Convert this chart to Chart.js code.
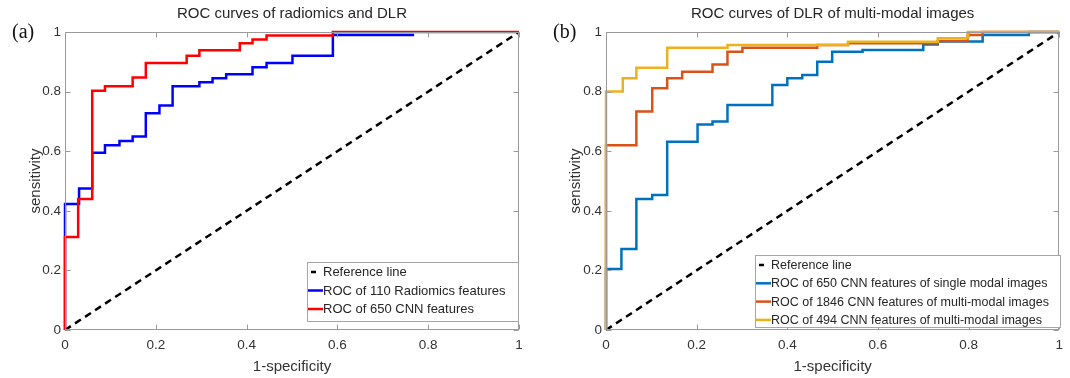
<!DOCTYPE html>
<html>
<head>
<meta charset="utf-8">
<script src="https://cdn.jsdelivr.net/npm/chart.js@4.4.1/dist/chart.umd.min.js"></script>
<style>
  body { margin: 0; background: #fff; }
  canvas { position: absolute; top: 0; }
  #rocRadiomics { left: 0; }
  #rocMultiModal { left: 540px; }
</style>
</head>
<body>
<canvas id="rocRadiomics" width="540" height="378"></canvas>
<canvas id="rocMultiModal" width="530" height="378"></canvas>
<script>
// tick labels (shared by both panels)
const xTickLabels = ["0", "0.2", "0.4", "0.6", "0.8", "1"];
const yTickLabels = ["0", "0.2", "0.4", "0.6", "0.8", "1"];

// chance diagonal
const referenceFpr = [0, 1];
const referenceTpr = [0, 1];

// (a) radiomics vs DLR -- step corners
const radiomicsFpr = [0, 0, 0.031, 0.06, 0.088, 0.12, 0.149, 0.178, 0.208, 0.237, 0.296, 0.325, 0.355, 0.413, 0.444, 0.501, 0.59, 0.769];
const radiomicsTpr = [0, 0.423, 0.475, 0.595, 0.62, 0.634, 0.649, 0.727, 0.753, 0.818, 0.831, 0.845, 0.858, 0.882, 0.896, 0.92, 0.99, 0.99];
const cnn650Fpr = [0, 0, 0.029, 0.06, 0.088, 0.149, 0.178, 0.268, 0.296, 0.385, 0.413, 0.444, 0.59, 1];
const cnn650Tpr = [0, 0.312, 0.44, 0.803, 0.818, 0.847, 0.896, 0.92, 0.939, 0.962, 0.975, 0.988, 1, 1];

// (b) multi-modal images
const singleModalFpr = [0, 0, 0.034, 0.067, 0.102, 0.135, 0.202, 0.235, 0.268, 0.367, 0.4, 0.433, 0.466, 0.499, 0.566, 0.7, 0.732, 0.831, 0.933, 1];
const singleModalTpr = [0, 0.205, 0.272, 0.44, 0.453, 0.632, 0.69, 0.7, 0.755, 0.822, 0.845, 0.856, 0.9, 0.934, 0.94, 0.958, 0.968, 0.99, 1, 1];
const multi1846Fpr = [0, 0, 0.067, 0.102, 0.135, 0.168, 0.235, 0.268, 0.301, 0.466, 0.534, 0.732, 0.798, 0.831, 1];
const multi1846Tpr = [0, 0.62, 0.733, 0.811, 0.845, 0.867, 0.891, 0.934, 0.947, 0.956, 0.962, 0.97, 0.99, 1, 1];
const multi494Fpr = [0, 0, 0.037, 0.067, 0.135, 0.268, 0.534, 0.732, 0.798, 1];
const multi494Tpr = [0, 0.8, 0.845, 0.88, 0.947, 0.956, 0.967, 0.979, 1, 1];

const FONT = "'Liberation Sans', Arial, sans-serif";

// horizontal first, then vertical -- ROC staircase
const toStairs = (fpr, tpr) => {
  const points = [];
  fpr.forEach((x, i) => {
    if (i > 0) points.push({ x, y: tpr[i - 1] });
    points.push({ x, y: tpr[i] });
  });
  return points;
};

const rocLine = (label, fpr, tpr, color, order, dashed) => ({
  label,
  data: dashed ? fpr.map((x, i) => ({ x, y: tpr[i] })) : toStairs(fpr, tpr),
  borderColor: color,
  borderWidth: 2.5,
  borderDash: dashed ? [7, 5] : [],
  pointRadius: 0,
  tension: 0,
  fill: false,
  clip: 4,
  order,
});

// box, inward ticks, title, panel letter and the in-plot legend
const matlabAxes = {
  id: "matlabAxes",
  afterDraw(chart, args, opts) {
    const { ctx, chartArea: a, scales } = chart;
    ctx.save();
    ctx.strokeStyle = "#9a9a9a";
    ctx.lineWidth = 1;
    const l = Math.round(a.left) + 0.5, r = Math.round(a.right) - 0.5;
    const t = Math.round(a.top) + 0.5, b = Math.round(a.bottom) - 0.5;
    ctx.strokeRect(l, t, r - l, b - t);
    ctx.beginPath();
    xTickLabels.forEach((s, i) => {
      const px = Math.round(scales.x.getPixelForValue(i * 0.2)) + 0.5;
      ctx.moveTo(px, b); ctx.lineTo(px, b - 5);
      ctx.moveTo(px, t); ctx.lineTo(px, t + 5);
    });
    yTickLabels.forEach((s, i) => {
      const py = Math.round(scales.y.getPixelForValue(i * 0.2)) + 0.5;
      ctx.moveTo(l, py); ctx.lineTo(l + 5, py);
      ctx.moveTo(r, py); ctx.lineTo(r - 5, py);
    });
    ctx.stroke();

    ctx.fillStyle = "#262626";
    ctx.textBaseline = "middle";
    ctx.textAlign = "center";
    ctx.font = "15px " + FONT;
    ctx.fillText(opts.title, (a.left + a.right) / 2, 14);
    ctx.textAlign = "left";
    ctx.fillStyle = "#111";
    ctx.font = "20px 'Liberation Serif', 'Times New Roman', serif";
    ctx.fillText(opts.panel, opts.panelX, 33);

    // legend
    const lg = opts.legend;
    const rows = chart.data.datasets;
    ctx.fillStyle = "#fff";
    ctx.fillRect(lg.left, lg.top, lg.width, lg.height);
    ctx.strokeStyle = "#a6a6a6";
    ctx.lineWidth = 1;
    ctx.strokeRect(lg.left + 0.5, lg.top + 0.5, lg.width, lg.height);
    ctx.font = lg.fontSize + "px " + FONT;
    rows.forEach((ds, i) => {
      const y = lg.top + 10 + i * lg.rowH;
      ctx.strokeStyle = ds.borderColor;
      ctx.lineWidth = 2.5;
      ctx.beginPath();
      if (ds.borderDash.length) {
        ctx.moveTo(lg.left + 4, y); ctx.lineTo(lg.left + 9, y);
      } else {
        ctx.moveTo(lg.left + 1, y); ctx.lineTo(lg.left + 16, y);
      }
      ctx.stroke();
      ctx.fillStyle = "#262626";
      ctx.fillText(ds.label, lg.left + 16, y + 0.5);
    });
    ctx.restore();
  },
};

function drawRocChart(canvasId, datasets, opts, padRight) {
  const ctx = document.getElementById(canvasId);
  const tickFont = { family: FONT, size: 13.5 };
  new Chart(ctx, {
    type: "line",
    data: { datasets },
    options: {
      responsive: false,
      animation: false,
      layout: { padding: { top: 32, right: padRight, left: 0, bottom: 0 } },
      scales: {
        x: {
          type: "linear",
          min: 0,
          max: 1,
          grid: { display: false, drawTicks: false },
          border: { display: false },
          ticks: {
            stepSize: 0.2,
            color: "#333",
            font: tickFont,
            padding: 7,
            maxRotation: 0,
            callback: (v) => xTickLabels[Math.round(v * 5)],
          },
          title: { display: true, text: "1-specificity", color: "#333", font: { family: FONT, size: 15 }, padding: { top: 0, bottom: 2 } },
          afterFit: (s) => { s.height = 48; },
        },
        y: {
          type: "linear",
          min: 0,
          max: 1,
          grid: { display: false, drawTicks: false },
          border: { display: false },
          ticks: {
            stepSize: 0.2,
            color: "#333",
            font: tickFont,
            padding: 4,
            callback: (v) => yTickLabels[Math.round(v * 5)],
          },
          title: { display: true, text: "sensitivity", color: "#333", font: { family: FONT, size: 15 }, padding: { top: 27, bottom: 0 } },
          afterFit: (s) => { s.width = opts.axisLeft; },
        },
      },
      plugins: {
        legend: { display: false },
        tooltip: { enabled: false },
        matlabAxes: opts,
      },
    },
    plugins: [matlabAxes],
  });
}

drawRocChart("rocRadiomics", [
  rocLine("Reference line", referenceFpr, referenceTpr, "#000000", 3, true),
  rocLine("ROC of 110 Radiomics features", radiomicsFpr, radiomicsTpr, "#0000ff", 2),
  rocLine("ROC of 650 CNN features", cnn650Fpr, cnn650Tpr, "#ff0000", 1),
], {
  title: "ROC curves of radiomics and DLR",
  panel: "(a)",
  panelX: 12,
  axisLeft: 65,
  legend: { left: 307, top: 262, width: 211, height: 59, rowH: 18.5, fontSize: 13 },
}, 21);

drawRocChart("rocMultiModal", [
  rocLine("Reference line", referenceFpr, referenceTpr, "#000000", 4, true),
  rocLine("ROC of 650 CNN features of single modal images", singleModalFpr, singleModalTpr, "#0072bd", 3),
  rocLine("ROC of 1846 CNN features of multi-modal images", multi1846Fpr, multi1846Tpr, "#d95319", 2),
  rocLine("ROC of 494 CNN features of multi-modal images", multi494Fpr, multi494Tpr, "#edb120", 1),
], {
  title: "ROC curves of DLR of multi-modal images",
  panel: "(b)",
  panelX: 13,
  axisLeft: 66,
  legend: { left: 215, top: 255, width: 305, height: 72, rowH: 18.3, fontSize: 12.5 },
}, 8);
</script>
</body>
</html>
